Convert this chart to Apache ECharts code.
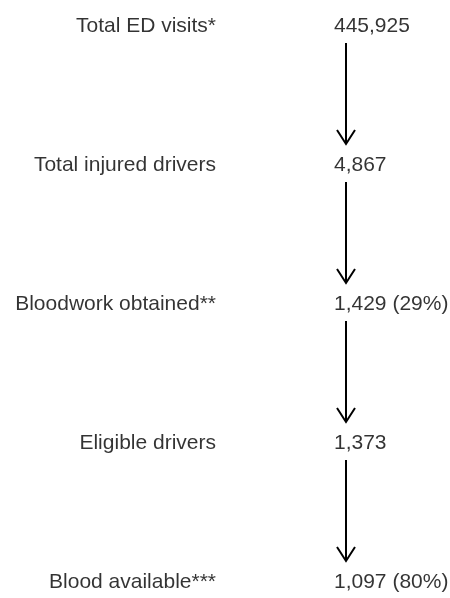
<!DOCTYPE html>
<html>
<head>
<meta charset="utf-8">
<script src="https://cdn.jsdelivr.net/npm/echarts@6/dist/echarts.min.js"></script>
<style>
  html, body { margin: 0; padding: 0; background: #fff; }
  #chart { width: 450px; height: 598px; }
</style>
</head>
<body>
<div id="chart"></div>
<script>
// 流程图的各步骤
const steps = ['Total ED visits*', 'Total injured drivers', 'Bloodwork obtained**', 'Eligible drivers', 'Blood available***']
// 各步骤人数
const counts = [445925, 4867, 1429, 1373, 1097]
// 百分比（没有的为 null）
const percents = [null, null, 29, null, 80]

// 列的位置
const labelX = 216
const valueX = 334
const arrowX = 346

const chart = echarts.init(document.getElementById('chart'))

const fmt = (i) => counts[i].toLocaleString('en-US') + (percents[i] != null ? ' (' + percents[i] + '%)' : '')
const textStyle = { fontFamily: 'Liberation Sans, Arial, sans-serif', fontSize: 21, color: '#000' }

chart.setOption({
  animation: false,
  grid: { left: 0, right: 0, top: 26, bottom: 16 },
  xAxis: { type: 'value', min: 0, max: 450, show: false },
  yAxis: { type: 'value', min: 0, max: steps.length - 1, inverse: true, show: false },
  series: [
    {
      // 左侧的步骤名称
      type: 'scatter',
      symbolSize: 0,
      data: steps.map((s, i) => ({ value: [labelX, i], name: s })),
      label: {
        show: true, position: 'inside', align: 'right', verticalAlign: 'middle',
        formatter: (p) => p.name, ...textStyle
      }
    },
    {
      // 右侧的人数
      type: 'scatter',
      symbolSize: 0,
      data: counts.map((c, i) => ({ value: [valueX, i] })),
      label: {
        show: true, position: 'inside', align: 'left', verticalAlign: 'middle',
        formatter: (p) => fmt(p.dataIndex), ...textStyle
      }
    },
    {
      // 步骤之间的箭头
      type: 'custom',
      data: steps.slice(0, -1).map((s, i) => [arrowX, i]),
      renderItem: (params, api) => {
        const i = api.value(1)
        const a = api.coord([api.value(0), i])
        const b = api.coord([api.value(0), i + 1])
        const x = a[0]
        const y0 = a[1] + 17
        const tip = b[1] - 21
        const st = { stroke: '#000', lineWidth: 2, fill: null }
        return {
          type: 'group',
          children: [
            { type: 'line', shape: { x1: x, y1: y0, x2: x, y2: tip }, style: st },
            { type: 'polyline', shape: { points: [[x - 9, tip - 14], [x, tip], [x + 9, tip - 14]] }, style: st }
          ]
        }
      }
    }
  ]
})
</script>
</body>
</html>
